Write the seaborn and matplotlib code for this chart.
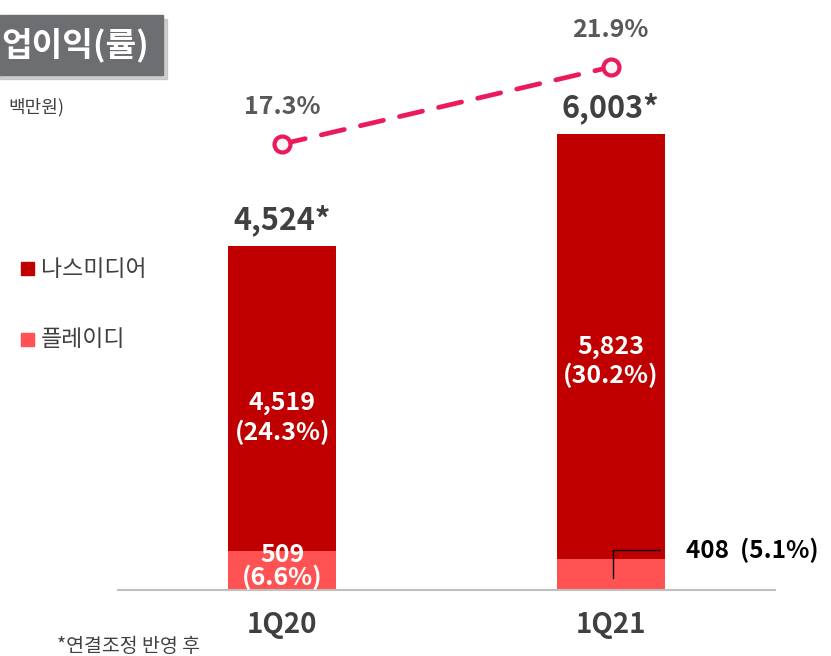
import matplotlib
matplotlib.use("Agg")
import matplotlib.pyplot as plt
import matplotlib.patches as mpatches
import seaborn as sns
import pandas as pd

# data
quarters = ["1Q20", "1Q21"]
total_op = [4524, 6003]          # 연결조정 반영 후
nasmedia_op = [4519, 5823]
playd_op = [509, 408]
nasmedia_margin = [24.3, 30.2]
playd_margin = [6.6, 5.1]
op_margin = [17.3, 21.9]

dark_red = "#C00000"
light_red = "#FF5353"
line_col = "#EB1A5A"
grey_txt = "#404040"

sns.set_style("white")
plt.rcParams["font.family"] = ["Noto Sans CJK KR", "DejaVu Sans"]

df = pd.DataFrame({"q": quarters, "total": total_op, "playd": playd_op})

fig = plt.figure(figsize=(8.31, 6.56), dpi=100)
ax = fig.add_axes([118 / 831, 66 / 656, 657 / 831, 570 / 656])

# stacked bars: total first, PlayD drawn on top from the baseline
sns.barplot(data=df, x="q", y="total", color=dark_red, width=0.33,
            saturation=1, linewidth=0, ax=ax)
sns.barplot(data=df, x="q", y="playd", color=light_red, width=0.33,
            saturation=1, linewidth=0, ax=ax)
ax.set_ylim(0, 7500)
ax.set_xlim(-0.5, 1.5)
ax.set_xlabel("")
ax.set_ylabel("")
ax.set_yticks([])
for s in ["top", "left", "right"]:
    ax.spines[s].set_visible(False)
ax.spines["bottom"].set_color("#BFBFBF")
ax.spines["bottom"].set_linewidth(1.5)
ax.tick_params(axis="x", length=0, pad=15)
for lab in ax.get_xticklabels():
    lab.set_fontsize(20)
    lab.set_fontweight("bold")
    lab.set_color(grey_txt)

for i in range(2):
    ax.annotate(f"{total_op[i]:,}*", xy=(i, total_op[i]), xytext=(0, 7),
                textcoords="offset points", ha="center", va="bottom",
                fontsize=22, fontweight="bold", color=grey_txt)
    ax.text(i, total_op[i] * 0.5,
            f"{nasmedia_op[i]:,}\n({nasmedia_margin[i]}%)",
            ha="center", va="center", fontsize=18, fontweight="bold",
            color="white", linespacing=1.2)

# PlayD labels
ax.text(0, playd_op[0] * 0.6, f"{playd_op[0]}\n({playd_margin[0]}%)",
        ha="center", va="center", fontsize=18, fontweight="bold",
        color="white", linespacing=0.9)
ax.plot([1.15, 1.007, 1.007], [520, 520, 160], color="black", lw=1)
ax.text(1.23, 520, f"{playd_op[1]}  ({playd_margin[1]}%)", ha="left",
        va="center", fontsize=17.5, fontweight="bold", color="black")

# margin line
ax2 = ax.twinx()
ax2.plot(range(2), op_margin, color=line_col, lw=3.4, dashes=(5, 3.5),
         dash_capstyle="round", marker="o", markersize=11.5,
         markerfacecolor="#F7F7F7", markeredgecolor=line_col,
         markeredgewidth=3)
ax2.set_ylim(-9.34, 24.71)
ax2.set_yticks([])
for s in ["top", "left", "right", "bottom"]:
    ax2.spines[s].set_visible(False)
for i in range(2):
    ax2.annotate(f"{op_margin[i]}%", xy=(i, op_margin[i]), xytext=(0, 18),
                 textcoords="offset points", ha="center", va="bottom",
                 fontsize=18, fontweight="bold", color="#595959")

# title box
shadow = mpatches.Rectangle((0, 1 - 79 / 656), 167 / 831, 60 / 656,
                            transform=fig.transFigure, color="#B0B0B0",
                            alpha=0.6, zorder=1)
box = mpatches.Rectangle((0, 1 - 75 / 656), 163 / 831, 60 / 656,
                         transform=fig.transFigure, color="#6D6E71", zorder=2)
fig.patches.extend([shadow, box])
fig.text(1 / 831, 1 - 45 / 656, "업이익(률)", ha="left", va="center",
         fontsize=24, fontweight="bold", color="white", zorder=3)
fig.text(8 / 831, 1 - 107 / 656, "백만원)", ha="left", va="center",
         fontsize=13, color=grey_txt)

# legend
for name, col, yp in [("나스미디어", dark_red, 269), ("플레이디", light_red, 340)]:
    fig.patches.append(mpatches.Rectangle((21 / 831, 1 - (yp + 6) / 656),
                                          13 / 831, 13 / 656,
                                          transform=fig.transFigure, color=col))
    fig.text(41 / 831, 1 - yp / 656, name, ha="left", va="center",
             fontsize=16.5, color=grey_txt)

fig.text(57 / 831, 1 - 647 / 656, "*연결조정 반영 후", ha="left",
         va="center", fontsize=14, color=grey_txt)

fig.savefig("out.png", dpi=100)
